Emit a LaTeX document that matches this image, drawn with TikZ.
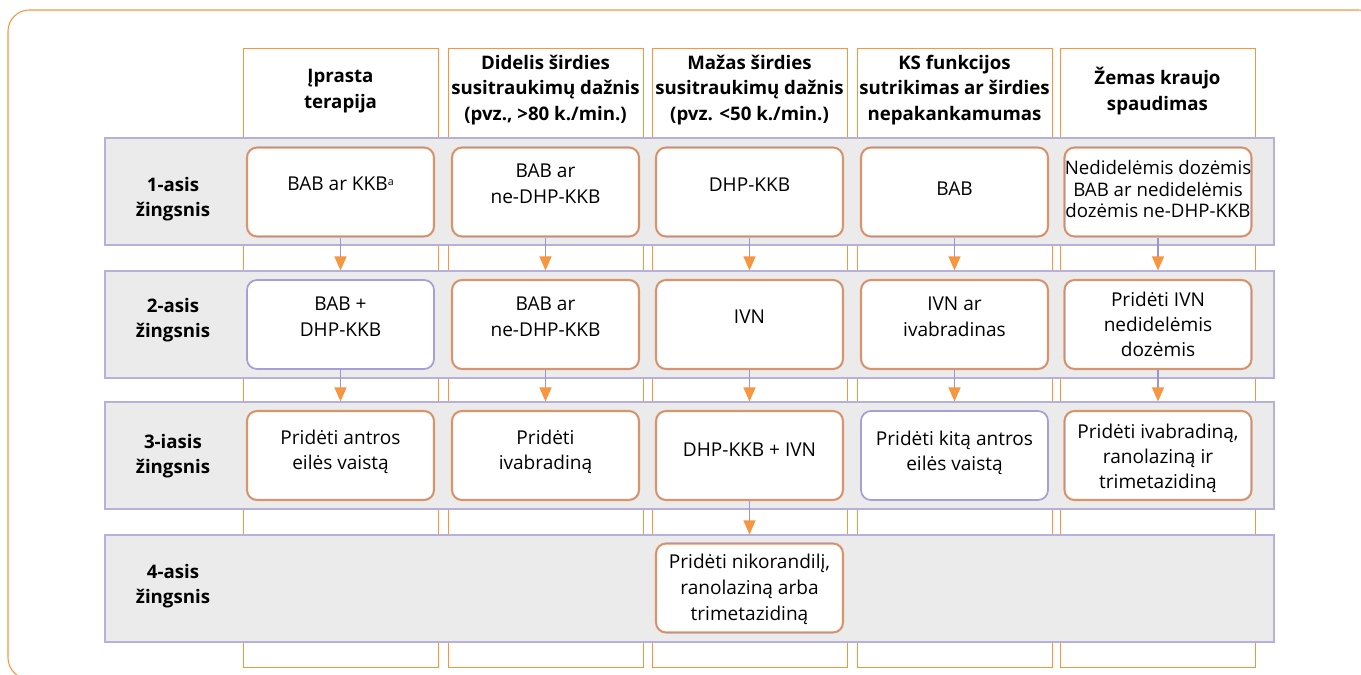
\documentclass[tikz,border=0pt]{standalone}
\usepackage{fontspec}
\setmainfont{Open Sans}
\usetikzlibrary{arrows.meta}
\definecolor{orng}{HTML}{F7963F}
\definecolor{purp}{HTML}{9D93D3}
\definecolor{rowgray}{HTML}{EBEBEB}
\definecolor{rowline}{HTML}{B7B0DA}
\begin{document}
\begin{tikzpicture}[x=0.75pt,y=-0.75pt,
  colbox/.style={rectangle, draw=orng, fill=white, line width=0.75pt, inner sep=0pt,
    minimum width=146.25pt, minimum height=464.25pt},
  rowband/.style={rectangle, draw=rowline, fill=rowgray, line width=0.9pt, inner sep=0pt,
    minimum width=876.75pt, minimum height=80.25pt},
  basebox/.style={rectangle, rounded corners=7.5pt, fill=white, inner sep=0pt,
    minimum width=140.25pt, minimum height=66.75pt},
  obox/.style={basebox, draw=orng, line width=1.6pt, postaction={draw=purp, line width=0.45pt}},
  pbox/.style={basebox, draw=purp!90, line width=1.3pt},
  txt/.style={align=center, inner sep=0pt, font=\fontsize{14.3}{19.5}\selectfont},
  txtt/.style={align=center, inner sep=0pt, font=\fontsize{14}{16.2}\selectfont},
  txtm/.style={align=center, inner sep=0pt, font=\fontsize{14.3}{18.8}\selectfont},
  hd/.style={align=center, inner sep=0pt, font=\bfseries\fontsize{14}{19.2}\selectfont},
  arr/.style={draw=purp, line width=1pt, -{Triangle[length=10.5pt,width=9pt,color=orng]}}
]
\useasboundingbox (0,0) rectangle (1361,675);
% outer frame
\draw[orng, line width=0.8pt, rounded corners=16pt] (8,10) rectangle (1380,679);
% columns
\foreach \n/\x in {1/340.5,2/545.5,3/749.5,4/954.5,5/1157.5}
  \node[colbox] (c\n) at (\x,357.5) {};
% row bands
\node[rowband] (r1) at (689.5,191.5) {};
\node[rowband] (r2) at (689.5,324.5) {};
\node[rowband] (r3) at (689.5,455.5) {};
\node[rowband] (r4) at (689.5,588.5) {};
% headers
\node[hd] (h1) at (340.5,91) {Įprasta\\terapija};
\node[hd] (h2) at (545.5,90) {Didelis širdies\\susitraukimų dažnis\\(pvz., >80 k./min.)};
\node[hd] (h3) at (749.5,90) {Mažas širdies\\susitraukimų dažnis\\(pvz. <50 k./min.)};
\node[hd] (h4) at (954.5,90) {KS funkcijos\\sutrikimas ar širdies\\nepakankamumas};
\node[hd] (h5) at (1157.5,91) {Žemas kraujo\\spaudimas};
% row labels
\node[hd] (l1) at (173,199) {1-asis\\žingsnis};
\node[hd] (l2) at (173,320) {2-asis\\žingsnis};
\node[hd] (l3) at (173,456) {3-iasis\\žingsnis};
\node[hd] (l4) at (173,586) {4-asis\\žingsnis};
% step boxes
\node[obox] (b11) at (340.5,192) {};
\node[obox] (b12) at (545.5,192) {};
\node[obox] (b13) at (749.5,192) {};
\node[obox] (b14) at (954.5,192) {};
\node[obox] (b15) at (1158,192) {};
\node[pbox] (b21) at (340.5,324.5) {};
\node[obox] (b22) at (545.5,324.5) {};
\node[obox] (b23) at (749.5,324.5) {};
\node[obox] (b24) at (954.5,324.5) {};
\node[obox] (b25) at (1158,324.5) {};
\node[obox] (b31) at (340.5,455.5) {};
\node[obox] (b32) at (545.5,455.5) {};
\node[obox] (b33) at (749.5,455.5) {};
\node[pbox] (b34) at (954.5,455.5) {};
\node[obox] (b35) at (1158,455.5) {};
\node[obox] (b43) at (749.5,588) {};
% texts
\node[txt] (t11) at (340.5,184) {BAB ar KKB\raisebox{0.55ex}{\fontsize{8}{8}\selectfont a}};
\node[txt] (t12) at (545.5,184) {BAB ar\\ne-DHP-KKB};
\node[txt] (t13) at (749.5,185) {DHP-KKB};
\node[txt] (t14) at (954.5,189) {BAB};
\node[txtt] (t15) at (1158,189) {Nedidelėmis dozėmis\\BAB ar nedidelėmis\\dozėmis ne-DHP-KKB};
\node[txt] (t21) at (340.5,317) {BAB +\\DHP-KKB};
\node[txt] (t22) at (545.5,317) {BAB ar\\ne-DHP-KKB};
\node[txt] (t23) at (749.5,317) {IVN};
\node[txt] (t24) at (954.5,317) {IVN ar\\ivabradinas};
\node[txtm] (t25) at (1158,324) {Pridėti IVN\\nedidelėmis\\dozėmis};
\node[txtm] (t31) at (340.5,452) {Pridėti antros\\eilės vaistą};
\node[txtm] (t32) at (545.5,452) {Pridėti\\ivabradiną};
\node[txt] (t33) at (749.5,450) {DHP-KKB + IVN};
\node[txtm] (t34) at (954.5,453) {Pridėti kitą antros\\eilės vaistą};
\node[txtm] (t35) at (1158,458) {Pridėti ivabradiną,\\ranolaziną ir\\trimetazidiną};
\node[txt] (t43) at (749.5,589) {Pridėti nikorandilį,\\ranolaziną arba\\trimetazidiną};
% arrows
\foreach \c in {1,2,3,4,5}{
  \draw[arr] (b1\c.south) -- (b1\c.south |- r2.north);
  \draw[arr] (b2\c.south) -- (b2\c.south |- r3.north);
}
\draw[arr] (b33.south) -- (b33.south |- r4.north);
\end{tikzpicture}
\end{document}
